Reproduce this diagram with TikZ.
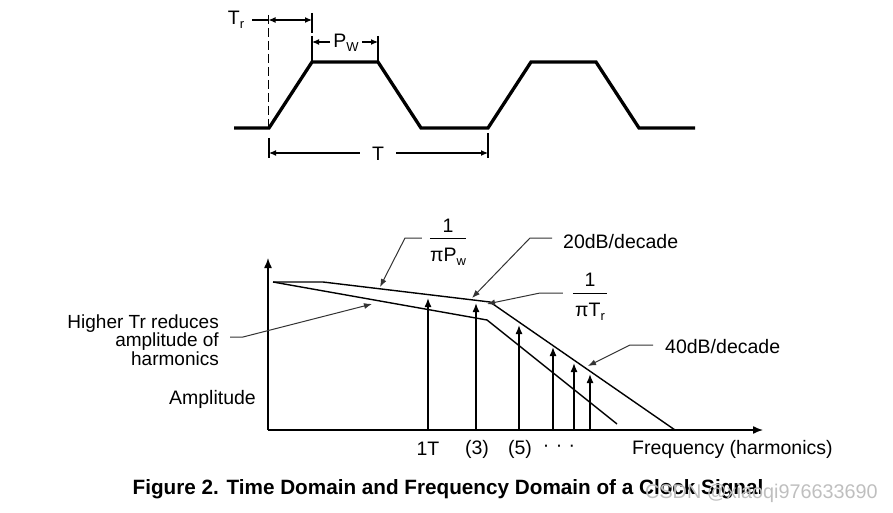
\documentclass[tikz,border=0pt]{standalone}
\usepackage{fontspec}
\setmainfont{Liberation Sans}
\usetikzlibrary{arrows.meta}
\newcommand{\sbs}[1]{\raisebox{-0.35ex}{\fontsize{13}{13}\selectfont #1}}
\begin{document}
\begin{tikzpicture}[x=1pt,y=-1pt,
  wave/.style={line width=3.3pt},
  dim/.style={line width=1.1pt},
  dimtip/.style={-{Latex[length=7pt,width=6pt]}},
  lead/.style={line width=1pt, draw=black!80, -{Latex[length=8pt,width=6pt]}},
  lab/.style={font=\fontsize{19.5}{20}\selectfont, inner sep=0pt},
  spec/.style={line width=1.4pt, -{Latex[length=9pt,width=7pt]}},
  env/.style={line width=1.4pt},
  axis/.style={line width=1.4pt, -{Latex[length=10pt,width=8pt]}}]
\useasboundingbox (0,0) rectangle (893,513);

% ---------- time domain ----------
\draw[wave] (234,128) -- (269,128) -- (312,62) -- (378,62) -- (421,128)
  -- (488,128) -- (531,62) -- (596,62) -- (639,128) -- (695,128);
\draw[line width=1.3pt, dash pattern=on 9pt off 4pt] (268.5,15) -- (268.5,128);

% Tr
\node[lab] (tr) at (236,20) {T\sbs{r}};
\coordinate (trA) at (268.5,20);
\coordinate (trB) at (312,20);
\draw[dim] ([xshift=8pt]tr.east) -- (trA);
\draw[dim, {Latex[length=7pt,width=6pt]}-{Latex[length=7pt,width=6pt]}] (trA) -- (trB);
\draw[dim] (312,13) -- (312,33);

% Pw
\draw[dim] (312,36) -- (312,62);
\draw[dim] (378,36) -- (378,62);
\node[lab, inner xsep=3pt] (pw) at (346,43) {P\sbs{W}};
\coordinate (pwA) at (312,42);
\coordinate (pwB) at (378,42);
\draw[dim, dimtip] (pw.west |- pwA) -- (pwA);
\draw[dim, dimtip] (pw.east |- pwB) -- (pwB);

% T
\draw[dim] (269,138) -- (269,158);
\draw[dim] (488,133) -- (488,158);
\node[lab, inner xsep=12pt] (tt) at (378,154) {T};
\coordinate (tA) at (269,153);
\coordinate (tB) at (488,153);
\draw[dim, dimtip] (tt.west |- tA) -- (tA);
\draw[dim, dimtip] (tt.east |- tB) -- (tB);

% ---------- frequency domain ----------
\coordinate (O) at (268,430);
\coordinate (ytop) at (268,258);
\coordinate (xend) at (763,430);
\draw[axis] (O) -- (ytop);
\draw[axis] (O) -- (xend);

\draw[env] (273,282) -- (323,282) -- (490,302) -- (675,430);
\draw[env] (273,282) -- (487,320) -- (617,424);

\foreach \x/\y in {428/298, 476/303, 519/325, 553/347, 574/363, 590/374}
  \draw[spec] (\x,430) -- (\x,\y);

\node[lab] (h1) at (428,449) {1T};
\node[lab] (h3) at (477,449) {(3)};
\node[lab] (h5) at (520,449) {(5)};
\node[lab] (hd) at (559,448) {·\,\,·\,\,·};
\node[lab, anchor=west] (freq) at (632,449) {Frequency (harmonics)};

% 1/(pi Pw)
\node[lab] (fw1) at (448,226) {1};
\node[inner sep=0pt, minimum width=36pt, minimum height=0pt] (fwbar) at (448,238) {};
\draw[line width=1pt] (fwbar.west) -- (fwbar.east);
\node[lab] (fw2) at (448,257) {πP\sbs{w}};
\coordinate (pwtip) at (380,287);
\draw[lead] ([xshift=-8pt]fwbar.west) -- (405,238) -- (pwtip);

% 20dB/decade
\node[lab, anchor=west] (db20) at (563,242) {20dB/decade};
\coordinate (db20tip) at (472,298);
\draw[lead] (552,238) -- (530,238) -- (db20tip);

% 1/(pi Tr)
\node[lab] (ft1) at (590,280) {1};
\node[inner sep=0pt, minimum width=34pt, minimum height=0pt] (ftbar) at (590,293) {};
\draw[line width=1pt] (ftbar.west) -- (ftbar.east);
\node[lab] (ft2) at (590,312) {πT\sbs{r}};
\coordinate (trtip) at (487,304);
\draw[lead] ([xshift=-10pt]ftbar.west) -- (540,293) -- (trtip);

% 40dB/decade
\node[lab, anchor=west] (db40) at (665,347) {40dB/decade};
\coordinate (db40tip) at (588,366);
\draw[lead] ([xshift=-12pt]db40.west |- 0,345) -- (630,345) -- (db40tip);

% Higher Tr
\node[font=\fontsize{19}{16.7}\selectfont, inner sep=0pt, align=right, anchor=east] (higher) at (219,340)
  {Higher Tr reduces\\amplitude of\\harmonics};
\coordinate (hitip) at (372,304);
\draw[lead] (230,337) -- (243,337) -- (hitip);

% Amplitude
\node[lab, anchor=east] (amp) at (256,399) {Amplitude};

% title
\node[font=\fontsize{20.7}{22}\selectfont\bfseries, inner sep=0pt] (title) at (448,489)
  {Figure 2. Time Domain and Frequency Domain of a Clock Signal};
\node[font=\fontsize{19.8}{22}\selectfont, text=black!25, inner sep=0pt, anchor=west] (wm) at (645,493)
  {CSDN @xiaoqi976633690};
\end{tikzpicture}
\end{document}
